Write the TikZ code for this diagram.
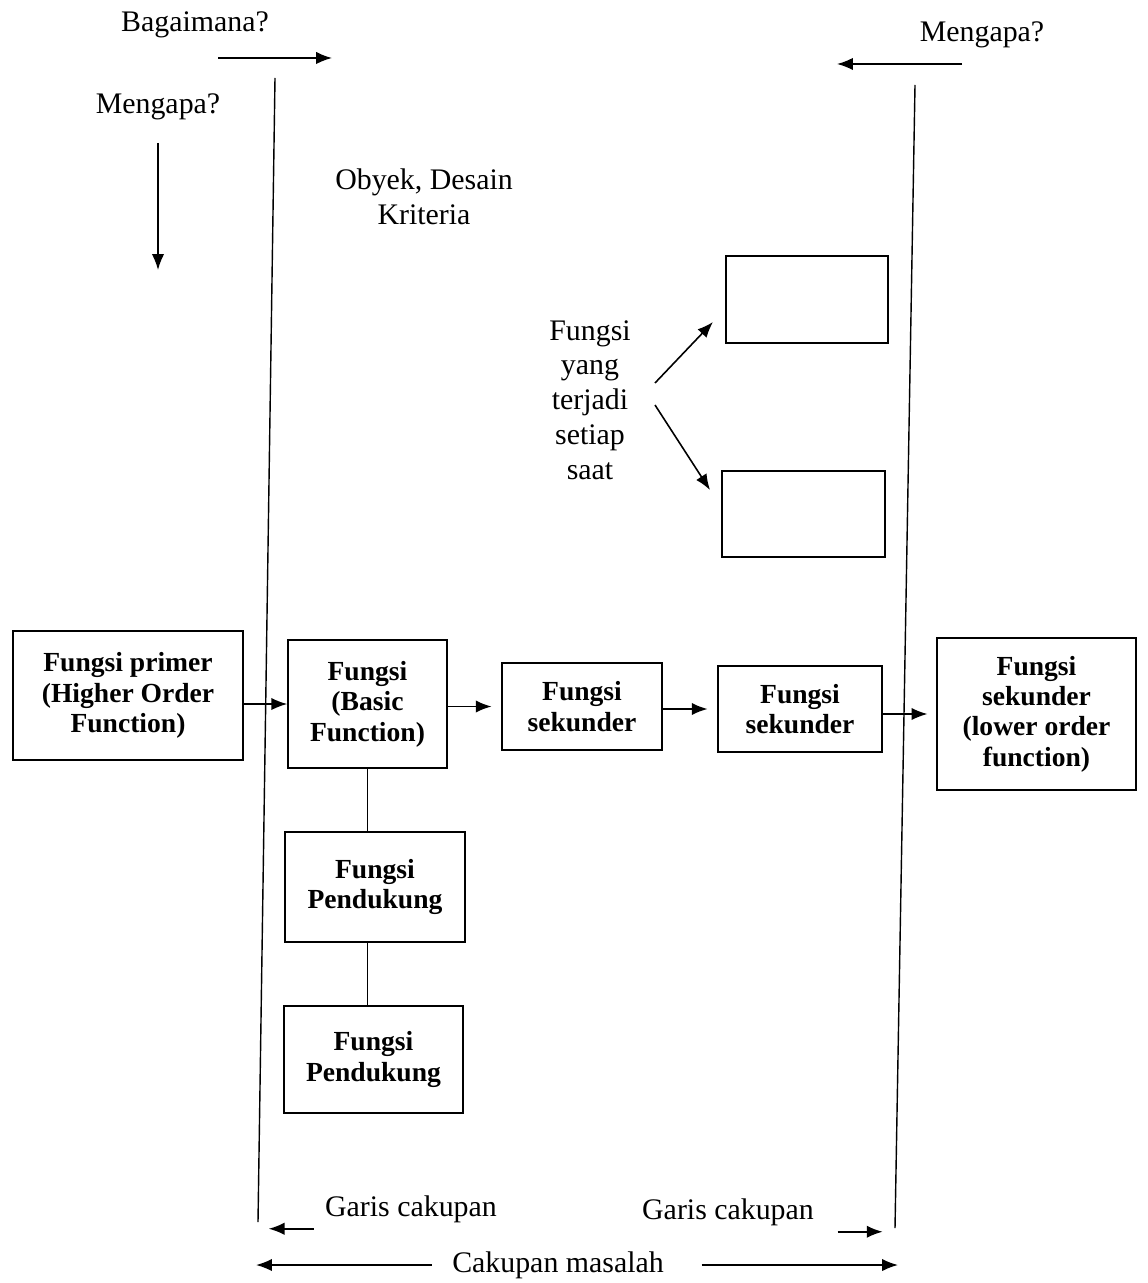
\documentclass[tikz,border=0pt]{standalone}
\usepackage{fontspec}
\setmainfont{Liberation Serif}
\usetikzlibrary{arrows.meta}

\tikzset{
  fbox/.style={draw, line width=0.9pt, align=center, inner sep=2pt,
    font=\fontsize{15.7}{17.3}\selectfont\bfseries},
  plain/.style={align=center, font=\fontsize{17}{20}\selectfont},
  arr/.style={line width=0.9pt, -{Latex[length=9pt,width=7pt]}},
  cline/.style={line width=0.8pt}
}

\begin{document}
\begin{tikzpicture}[x=0.02cm,y=-0.02cm]
  \useasboundingbox (0,0) rectangle (1147,1283);
  % garis cakupan
  \coordinate (lt) at (275,78);
  \coordinate (lb) at (258,1222);
  \coordinate (rt) at (915,85);
  \coordinate (rb) at (895,1228);
  \draw[cline] (lt) -- (lb);
  \draw[cline] (rt) -- (rb);

  % pertanyaan
  \node[plain] (bag) at (195,25) {Bagaimana?};
  \node[plain] (meng1) at (158,107) {Mengapa?};
  \node[plain] (meng2) at (982,35) {Mengapa?};
  \coordinate (bagA) at (218,58);
  \coordinate (meng1A) at (158,143);
  \coordinate (meng2A) at (962,64);
  \draw[arr] (bagA) -- ++(114,0);
  \draw[arr] (meng1A) -- ++(0,127);
  \draw[arr] (meng2A) -- ++(-125,0);

  \node[plain, font=\fontsize{17}{19.8}\selectfont] (obyek) at (424,197) {Obyek, Desain\\Kriteria};

  % fungsi setiap saat
  \node[plain, font=\fontsize{17}{19.8}\selectfont] (fts) at (590,400) {Fungsi\\yang\\terjadi\\setiap\\saat};
  \node[fbox, minimum width=3.24cm, minimum height=1.74cm] (top1) at (807,299.5) {};
  \node[fbox, minimum width=3.26cm, minimum height=1.72cm] (top2) at (803.5,514) {};
  \coordinate (ftsA) at (655,383);
  \coordinate (ftsB) at (655,405);
  \draw[arr] (ftsA) -- (713,322);
  \draw[arr] (ftsB) -- (710,490);

  % rantai fungsi
  \node[fbox, minimum width=4.6cm, minimum height=2.58cm] (primer) at (128,695.5) {Fungsi primer\\(Higher Order\\Function)};
  \node[fbox, minimum width=3.18cm, minimum height=2.56cm] (basic) at (367.5,704) {Fungsi\\(Basic\\Function)};
  \node[fbox, minimum width=3.2cm, minimum height=1.74cm] (sek1) at (582,706.5) {Fungsi\\sekunder};
  \node[fbox, minimum width=3.28cm, minimum height=1.72cm] (sek2) at (800,709) {Fungsi\\sekunder};
  \node[fbox, minimum width=3.98cm, minimum height=3.04cm] (lower) at (1036.5,714) {Fungsi\\sekunder\\(lower order\\function)};
  \node[fbox, minimum width=3.6cm, minimum height=2.2cm] (pend1) at (375,887) {Fungsi\\Pendukung};
  \node[fbox, minimum width=3.58cm, minimum height=2.14cm] (pend2) at (373.5,1059.5) {Fungsi\\Pendukung};

  \draw[arr] (primer.east |- basic.west) -- (basic.west);
  \draw[arr, shorten >=5.5pt] (basic.east |- sek1.west) -- (sek1.west);
  \draw[arr, shorten >=5.5pt] (sek1.east |- sek2.west) -- (sek2.west);
  \draw[arr, shorten >=5pt] (sek2.east |- lower.west) -- (lower.west);
  \draw[cline] (basic.south) -- (basic.south |- pend1.north);
  \draw[cline] (pend1.south -| basic.south) -- (pend2.north -| basic.south);

  % keterangan bawah
  \node[plain] (gc1) at (411,1209) {Garis cakupan};
  \node[plain] (gc2) at (728,1212) {Garis cakupan};
  \node[plain] (cm) at (558,1265) {Cakupan masalah};
  \draw[arr] ([xshift=-3pt]gc1.south west) -- ++(-45,0);
  \draw[arr] ([xshift=10pt]gc2.south east) -- ++(45,0);
  \draw[arr, shorten <=8pt] (cm.west) -- ++(-190,0);
  \draw[arr, shorten <=18pt] (cm.east) -- ++(228,0);
\end{tikzpicture}
\end{document}
